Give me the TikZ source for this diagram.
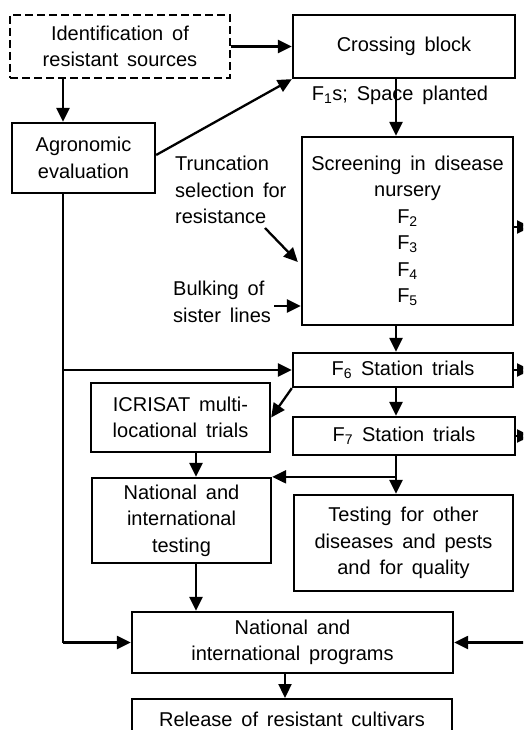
\documentclass[tikz,border=0pt]{standalone}
\usepackage{fontspec}
\setmainfont{Liberation Sans}[WordSpace=1.6]
\usetikzlibrary{arrows.meta}
\tikzset{
  box/.style={draw, line width=2.3pt, inner sep=0pt, align=center, font=\fontsize{20}{26.5}\selectfont},
  dbox/.style={box, dash pattern=on 8pt off 4pt},
  lbl/.style={inner sep=0pt, font=\fontsize{20}{26.5}\selectfont},
  arr/.style={line width=2.3pt, -{Triangle[length=14pt,width=13pt]}},
  ln/.style={line width=2.3pt}
}
\newcommand{\Fs}[1]{F\textsubscript{#1}}
\begin{document}
\begin{tikzpicture}[x=1pt,y=-1pt]
\clip (0,0) rectangle (523,730);
\fill[white] (0,0) rectangle (523,730);
% nodes
\node[dbox, minimum width=220pt, minimum height=63pt] (ident) at (120,46.5) {Identification of\\resistant sources};
\node[box, minimum width=222pt, minimum height=63pt] (cross) at (404,46.5) {Crossing block};
\node[box, minimum width=143pt, minimum height=70pt] (agro) at (83.5,158) {Agronomic\\evaluation};
\node[box, minimum width=211pt, minimum height=188pt] (screen) at (407.5,231) {Screening in disease\\nursery\\\Fs{2}\\\Fs{3}\\\Fs{4}\\\Fs{5}};
\node[box, minimum width=220pt, minimum height=34pt] (f6) at (403,370) {\Fs{6} Station trials};
\node[box, minimum width=179pt, minimum height=69pt] (icr) at (180.5,417.5) {ICRISAT multi-\\locational trials};
\node[box, minimum width=222pt, minimum height=38pt] (f7) at (404,436) {\Fs{7} Station trials};
\node[box, minimum width=179pt, minimum height=85pt] (nat) at (181.5,520.5) {National and\\international\\testing};
\node[box, minimum width=219pt, minimum height=96pt] (test) at (403.5,543) {Testing for other\\diseases and pests\\and for quality};
\node[box, minimum width=321pt, minimum height=61pt] (prog) at (292.5,642.5) {National and\\international programs};
\node[box, minimum width=320pt, minimum height=40pt, anchor=north] (rel) at (292,698) {Release of resistant cultivars};
% labels
\node[lbl] (f1) at (400,95) {\Fs{1}s; Space planted};
\node[lbl, align=left, anchor=west] (trunc) at (175,190) {Truncation\\selection for\\resistance};
\node[lbl, align=left, anchor=west] (bulk) at (173,302) {Bulking of\\sister lines};
% column coordinates
\coordinate (cL) at (63,0);
\coordinate (cM) at (396,0);
\coordinate (cN) at (196,0);
\coordinate (cP) at (285,0);
\coordinate (rE) at (531,0);
\coordinate (tA) at (265,228);
\coordinate (tB) at (0,262);
\coordinate (bA) at (274,306);
\coordinate (sR) at (0,227);
% connectors
\draw[arr] (ident.east) -- (cross.west);
\draw[arr] (ident.south -| cL) -- (agro.north -| cL);
\draw[arr] ([yshift=3pt]agro.east) -- (cross.south west);
\draw[arr] (cross.south -| cM) -- (screen.north -| cM);
\draw[arr] (tA) -- ([xshift=-3pt]screen.west |- tB);
\draw[arr] (bA) -- (screen.west |- bA);
\draw[arr] (screen.south -| cM) -- (f6.north -| cM);
\draw[ln] (agro.south -| cL) -- (cL |- prog.west);
\draw[arr] (cL |- prog.west) -- (prog.west);
\draw[arr] (cL |- f6.west) -- (f6.west);
\draw[arr] (f6.south west) -- (icr.east);
\draw[arr] (f6.south -| cM) -- (f7.north -| cM);
\draw[arr] (icr.south -| cN) -- (nat.north -| cN);
\draw[arr] (f7.south -| cM) -- (test.north -| cM);
\draw[arr] (cM |- nat.north) -- (nat.north east);
\draw[arr] (nat.south -| cN) -- (prog.north -| cN);
\draw[arr] (rE |- prog.east) -- (prog.east);
\draw[arr] (prog.south -| cP) -- (rel.north -| cP);
\draw[arr] (screen.east |- sR) -- (rE |- sR);
\draw[arr] (f6.east) -- (rE |- f6.east);
\draw[arr] (f7.east) -- (rE |- f7.east);
\end{tikzpicture}
\end{document}
